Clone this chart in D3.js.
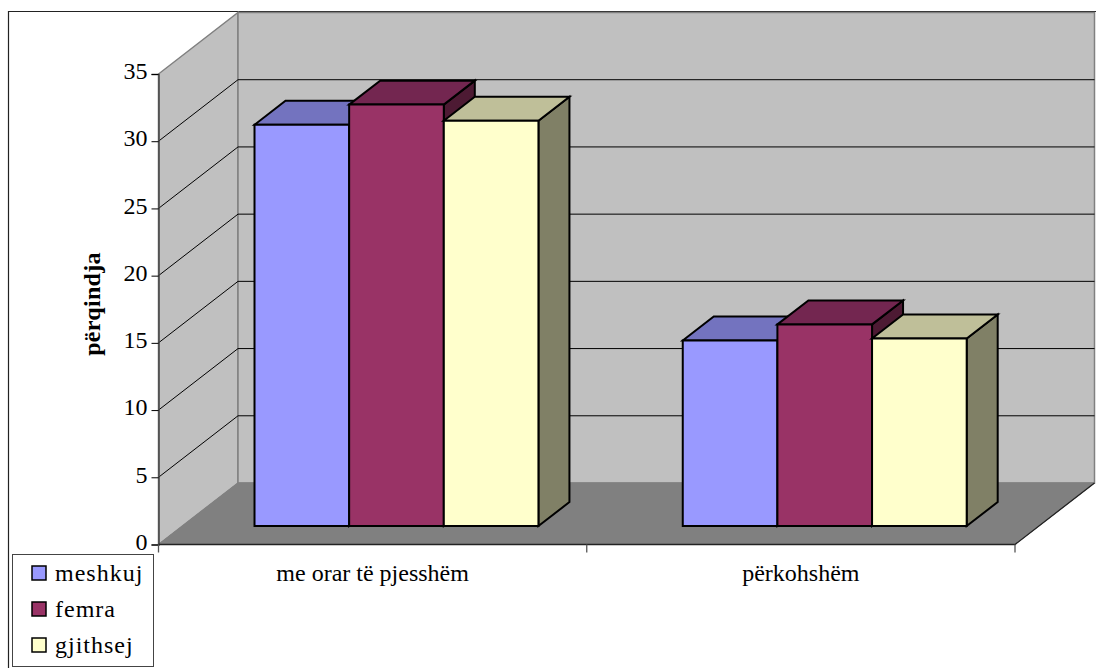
<!DOCTYPE html>
<html>
<head>
<meta charset="utf-8">
<script src="https://cdn.jsdelivr.net/npm/d3@7"></script>
<style>
  html, body { margin: 0; padding: 0; background: #fff; }
  svg { display: block; }
  text { font-family: "Liberation Serif", serif; fill: #000; }
</style>
</head>
<body>
<div id="chart"></div>
<script>
// values
const categories = ["me orar të pjesshëm", "përkohshëm"]
const seriesNames = ["meshkuj", "femra", "gjithsej"]
const meshkuj = [29.85, 13.8]
const femra = [31.35, 15]
const gjithsej = [30.15, 13.95]
const yTicks = [0, 5, 10, 15, 20, 25, 30, 35]
const seriesValues = [meshkuj, femra, gjithsej]

const colors = ["#9999ff", "#993366", "#ffffcc"]
const topColors = ["#7373bf", "#732650", "#bfbf99"]
const sideColors = ["#4d4d80", "#4d1a33", "#808066"]

const svg = d3.select("#chart").append("svg")
    .attr("width", 1096)
    .attr("height", 668)

const x0 = d3.scaleBand()
    .domain(categories)
    .range([158.5, 1015])
    .paddingInner(0.337)
    .paddingOuter(0.1685)

const x1 = d3.scaleBand()
    .domain(seriesNames)
    .range([0, x0.bandwidth()])

const y = d3.scaleLinear()
    .domain([0, 35])
    .range([544.5, 74])

// oblique projection, z goes from front of floor (0) to back wall (1)
const depthX = 79.5
const depthY = -61.5
function pt(px, v, z) {
    return [px + z * depthX, y(v) + z * depthY]
}
const poly = d3.line()
const closed = pts => poly(pts) + "Z"

// frame of the chart area
svg.append("path")
    .attr("d", "M8.5,668V11.5H1096")
    .attr("fill", "none")
    .attr("stroke", "#222")
    .attr("stroke-width", 1.2)

const xL = x0.range()[0]
const xR = x0.range()[1]

// walls and floor
svg.append("path")
    .attr("d", closed([pt(xL, 0, 0), pt(xL, 35, 0), pt(xL, 35, 1), pt(xL, 0, 1)]))
    .attr("fill", "#c0c0c0").attr("stroke", "#808080").attr("stroke-width", 1.5)
svg.append("path")
    .attr("d", closed([pt(xL, 0, 1), pt(xL, 35, 1), pt(xR, 35, 1), pt(xR, 0, 1)]))
    .attr("fill", "#c0c0c0").attr("stroke", "#808080").attr("stroke-width", 1.5)
svg.append("path")
    .attr("d", closed([pt(xL, 0, 0), pt(xL, 0, 1), pt(xR, 0, 1), pt(xR, 0, 0)]))
    .attr("fill", "#808080").attr("stroke", "#808080")

// gridlines
const grid = yTicks.filter(d => d > 0 && d < 35)
svg.append("g").selectAll("path")
    .data(grid)
    .join("path")
    .attr("d", d => poly([pt(xL, d, 0), pt(xL, d, 1), pt(xR, d, 1)]))
    .attr("fill", "none")
    .attr("stroke", "#000")
    .attr("stroke-width", 1)

// axes
const yAxis = d3.axisLeft(y).tickValues(yTicks).tickSize(7).tickPadding(4)
const gy = svg.append("g").attr("transform", `translate(${xL},0)`).call(yAxis)
gy.selectAll("text")
    .attr("font-family", "Liberation Serif")
    .attr("dy", "0.28em")
    .attr("transform", "translate(0,-2)")
    .style("font-size", "24px")
gy.select(".domain").attr("stroke", "#444").attr("stroke-width", 1.5)

const catEdges = [xL, (xL + xR) / 2, xR]
const gx = svg.append("g")
gx.append("path")
    .attr("d", poly([pt(xL, 0, 0), pt(xR, 0, 0), pt(xR, 0, 1)]))
    .attr("fill", "none").attr("stroke", "#222").attr("stroke-width", 1.3)
gx.selectAll("line")
    .data(catEdges)
    .join("line")
    .attr("x1", d => d).attr("x2", d => d)
    .attr("y1", y(0)).attr("y2", y(0) + 8)
    .attr("stroke", "#555").attr("stroke-width", 1.3)
gx.selectAll("text")
    .data(categories)
    .join("text")
    .attr("x", d => x0(d) + x0.bandwidth() / 2)
    .attr("y", 581)
    .attr("text-anchor", "middle")
    .style("font-size", "24px")
    .text(d => d)

svg.append("text")
    .attr("transform", "translate(100,304) rotate(-90)")
    .attr("text-anchor", "middle")
    .style("font-size", "24px")
    .style("font-weight", "bold")
    .style("letter-spacing", "0.3px")
    .text("përqindja")

// bars, painted left to right so the neighbours overlap like the original
const zFront = 0.3
const zBack = 0.69
categories.forEach((cat, c) => {
    seriesNames.forEach((name, s) => {
        const v = seriesValues[s][c]
        const a = x0(cat) + x1(name)
        const b = a + x1.bandwidth()
        const g = svg.append("g")
            .attr("stroke", "#000")
            .attr("stroke-width", 2)
            .attr("stroke-linejoin", "miter")
        g.append("path").attr("fill", sideColors[s])
            .attr("d", closed([pt(b, 0, zFront), pt(b, v, zFront), pt(b, v, zBack), pt(b, 0, zBack)]))
        g.append("path").attr("fill", topColors[s])
            .attr("d", closed([pt(a, v, zFront), pt(a, v, zBack), pt(b, v, zBack), pt(b, v, zFront)]))
        g.append("path").attr("fill", colors[s])
            .attr("d", closed([pt(a, 0, zFront), pt(a, v, zFront), pt(b, v, zFront), pt(b, 0, zFront)]))
    })
})

// legend
const legend = svg.append("g")
legend.append("rect")
    .attr("x", 12.5).attr("y", 554.5)
    .attr("width", 141).attr("height", 112)
    .attr("fill", "#fff").attr("stroke", "#444").attr("stroke-width", 1)
const legendY = d3.scalePoint().domain(seriesNames).range([573, 645])
const item = legend.selectAll("g")
    .data(seriesNames)
    .join("g")
    .attr("transform", d => `translate(0,${legendY(d)})`)
item.append("rect")
    .attr("x", 32).attr("y", -7)
    .attr("width", 14).attr("height", 14)
    .attr("fill", (d, i) => colors[i])
    .attr("stroke", "#000").attr("stroke-width", 1.5)
item.append("text")
    .attr("x", 55).attr("y", 8)
    .style("font-size", "24px")
    .style("letter-spacing", "1px")
    .text(d => d)
</script>
</body>
</html>
